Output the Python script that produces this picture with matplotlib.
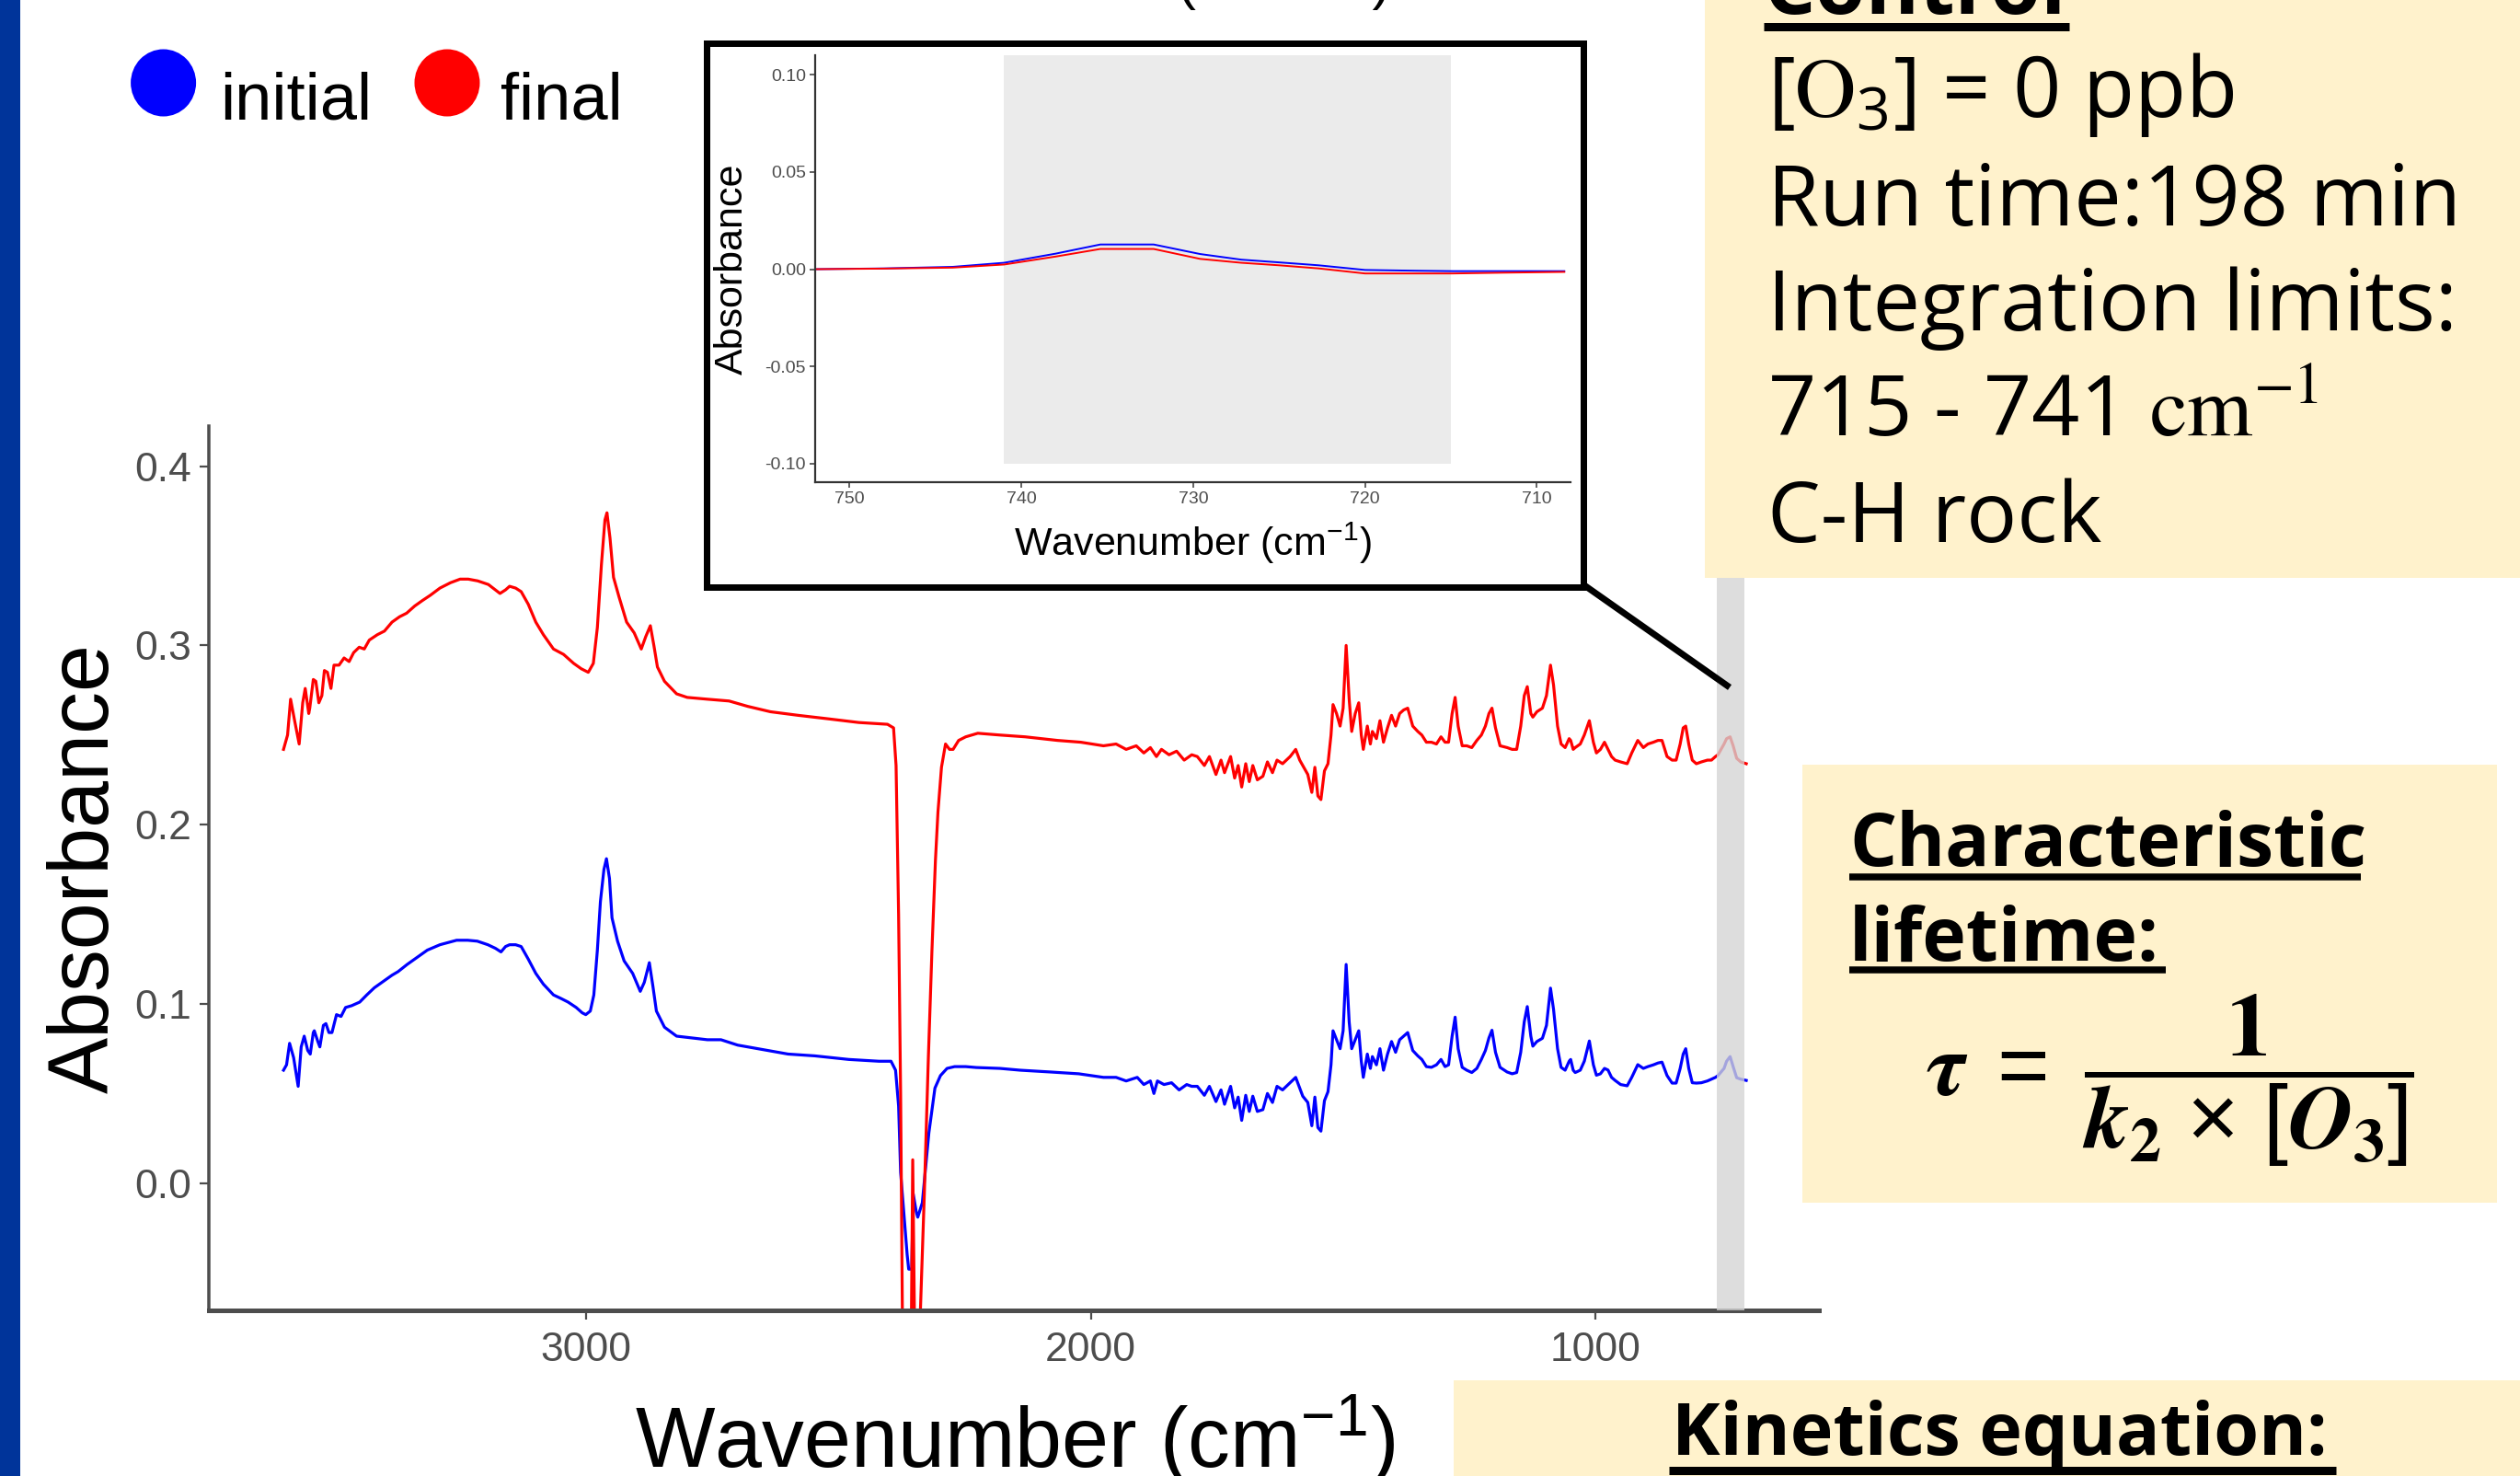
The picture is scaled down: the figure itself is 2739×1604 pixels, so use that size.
import matplotlib
matplotlib.use("Agg")
import matplotlib.pyplot as plt
from matplotlib.patches import Rectangle, Ellipse

# ------------------------------------------------------------------ data
# (wavenumber cm^-1, absorbance)
initial_spectrum = [
    (3600, 0.063), (3594, 0.066), (3588, 0.078), (3580, 0.070), (3571, 0.054),
    (3565, 0.076), (3559, 0.082), (3552, 0.074), (3547, 0.072), (3541, 0.084),
    (3539, 0.085), (3532, 0.079), (3528, 0.076), (3521, 0.088), (3516, 0.089),
    (3510, 0.084), (3504, 0.084), (3495, 0.094), (3486, 0.093), (3477, 0.098),
    (3465, 0.099), (3449, 0.101), (3435, 0.105), (3420, 0.109), (3400, 0.113),
    (3385, 0.116), (3373, 0.118), (3355, 0.122), (3335, 0.126), (3315, 0.130),
    (3290, 0.133), (3257, 0.1355), (3235, 0.1355), (3216, 0.135), (3195, 0.133),
    (3180, 0.131), (3169, 0.129), (3160, 0.132), (3152, 0.133), (3140, 0.133),
    (3129, 0.132), (3115, 0.125), (3100, 0.117), (3085, 0.111), (3065, 0.105),
    (3050, 0.103), (3036, 0.101), (3020, 0.098), (3008, 0.095), (3001, 0.094),
    (2992, 0.096), (2985, 0.105), (2978, 0.130), (2972, 0.157), (2965, 0.175),
    (2960, 0.181), (2954, 0.170), (2949, 0.148), (2938, 0.135), (2925, 0.124),
    (2908, 0.117), (2893, 0.107), (2885, 0.112), (2875, 0.123), (2868, 0.110),
    (2861, 0.096), (2845, 0.087), (2821, 0.082), (2790, 0.081), (2760, 0.080),
    (2733, 0.080), (2700, 0.077), (2640, 0.074), (2600, 0.072), (2547, 0.071),
    (2480, 0.069), (2420, 0.068), (2396, 0.068), (2387, 0.063), (2381, 0.043),
    (2377, 0.006), (2370, -0.019), (2364, -0.040), (2361, -0.048), (2355, -0.048),
    (2352, -0.006), (2346, -0.016), (2343, -0.019), (2334, -0.011), (2321, 0.028),
    (2309, 0.053), (2298, 0.060), (2285, 0.064), (2270, 0.065), (2248, 0.065),
    (2227, 0.0645), (2180, 0.064), (2140, 0.063), (2080, 0.062), (2024, 0.061),
    (1975, 0.059), (1950, 0.059), (1930, 0.057), (1908, 0.059), (1895, 0.055),
    (1882, 0.057), (1875, 0.050), (1868, 0.057), (1855, 0.055), (1840, 0.056),
    (1825, 0.052), (1810, 0.055), (1800, 0.054), (1789, 0.054), (1775, 0.049),
    (1765, 0.054), (1752, 0.0455), (1742, 0.052), (1735, 0.044), (1723, 0.054),
    (1715, 0.042), (1708, 0.048), (1701, 0.035), (1693, 0.049), (1686, 0.040),
    (1679, 0.0485), (1670, 0.040), (1659, 0.041), (1650, 0.050), (1640, 0.045),
    (1631, 0.054), (1620, 0.052), (1605, 0.056), (1594, 0.059), (1586, 0.053),
    (1580, 0.0485), (1570, 0.045), (1562, 0.032), (1556, 0.048), (1550, 0.031),
    (1544, 0.029), (1537, 0.046), (1530, 0.051), (1524, 0.066), (1520, 0.085),
    (1513, 0.080), (1506, 0.075), (1500, 0.085), (1494, 0.122), (1488, 0.090),
    (1483, 0.075), (1476, 0.080), (1469, 0.085), (1464, 0.068), (1460, 0.059),
    (1452, 0.072), (1446, 0.064), (1442, 0.0706), (1434, 0.066), (1427, 0.075),
    (1420, 0.063), (1412, 0.072), (1404, 0.079), (1396, 0.073), (1388, 0.080),
    (1380, 0.082), (1372, 0.084), (1362, 0.074), (1352, 0.071), (1344, 0.069),
    (1335, 0.065), (1325, 0.0646), (1315, 0.066), (1306, 0.069), (1298, 0.065),
    (1291, 0.066), (1284, 0.082), (1278, 0.0926), (1272, 0.075), (1264, 0.0646),
    (1255, 0.063), (1245, 0.0617), (1235, 0.064), (1226, 0.069), (1218, 0.074),
    (1211, 0.081), (1205, 0.0853), (1198, 0.073), (1189, 0.0646), (1175, 0.062),
    (1165, 0.061), (1156, 0.0617), (1148, 0.073), (1141, 0.090), (1135, 0.0985),
    (1128, 0.082), (1124, 0.0764), (1116, 0.079), (1105, 0.0808), (1097, 0.088),
    (1089, 0.1088), (1083, 0.097), (1075, 0.075), (1068, 0.0646), (1060, 0.063),
    (1052, 0.068), (1049, 0.069), (1044, 0.063), (1040, 0.0617), (1030, 0.063),
    (1022, 0.068), (1012, 0.0793), (1004, 0.066), (998, 0.0602), (990, 0.061),
    (982, 0.064), (975, 0.0631), (968, 0.059), (961, 0.0573), (950, 0.055),
    (937, 0.0543), (928, 0.059), (916, 0.0661), (905, 0.064), (896, 0.065),
    (885, 0.066), (876, 0.067), (868, 0.0675), (858, 0.060), (848, 0.0558),
    (840, 0.0558), (832, 0.064), (826, 0.072), (821, 0.075), (815, 0.064),
    (808, 0.056), (800, 0.0558), (790, 0.056), (778, 0.057), (770, 0.058),
    (762, 0.059), (757, 0.060), (745, 0.064), (740, 0.068), (733, 0.0706),
    (727, 0.065), (720, 0.0588), (712, 0.058), (701, 0.0573),
]

final_spectrum = [
    (3600, 0.242), (3592, 0.250), (3586, 0.270), (3578, 0.258), (3569, 0.245),
    (3562, 0.268), (3557, 0.276), (3550, 0.262), (3548, 0.265), (3541, 0.281),
    (3536, 0.280), (3530, 0.268), (3524, 0.272), (3519, 0.286), (3513, 0.285),
    (3506, 0.276), (3500, 0.289), (3490, 0.289), (3480, 0.293), (3470, 0.291),
    (3461, 0.296), (3450, 0.299), (3440, 0.298), (3430, 0.303), (3414, 0.306),
    (3400, 0.308), (3385, 0.313), (3370, 0.316), (3356, 0.318), (3340, 0.322),
    (3325, 0.325), (3309, 0.328), (3290, 0.332), (3269, 0.335), (3250, 0.337),
    (3234, 0.337), (3215, 0.336), (3194, 0.334), (3180, 0.331), (3171, 0.329),
    (3160, 0.331), (3152, 0.333), (3140, 0.332), (3129, 0.330), (3115, 0.323),
    (3100, 0.313), (3085, 0.306), (3065, 0.298), (3045, 0.295), (3025, 0.290),
    (3010, 0.287), (2996, 0.285), (2986, 0.290), (2978, 0.310), (2970, 0.345),
    (2963, 0.370), (2959, 0.374), (2953, 0.360), (2946, 0.338), (2935, 0.327),
    (2920, 0.313), (2905, 0.307), (2891, 0.298), (2882, 0.305), (2873, 0.311),
    (2866, 0.300), (2859, 0.288), (2845, 0.280), (2821, 0.273), (2800, 0.271),
    (2760, 0.270), (2717, 0.269), (2680, 0.266), (2635, 0.263), (2580, 0.261),
    (2519, 0.259), (2460, 0.257), (2403, 0.256), (2391, 0.254), (2386, 0.233),
    (2381, 0.150), (2377, 0.050), (2373, -0.090), (2362, -0.095), (2356, -0.090),
    (2353, 0.013), (2349, -0.090), (2340, -0.090), (2330, -0.006), (2322, 0.070),
    (2315, 0.129), (2308, 0.180), (2303, 0.207), (2296, 0.232), (2288, 0.245),
    (2280, 0.242), (2273, 0.242), (2262, 0.247), (2248, 0.249), (2224, 0.251),
    (2180, 0.250), (2130, 0.249), (2066, 0.247), (2020, 0.246), (1975, 0.244),
    (1950, 0.245), (1930, 0.242), (1910, 0.244), (1895, 0.240), (1882, 0.243),
    (1870, 0.238), (1860, 0.242), (1845, 0.239), (1830, 0.241), (1815, 0.236),
    (1800, 0.239), (1789, 0.238), (1775, 0.233), (1765, 0.238), (1752, 0.228),
    (1742, 0.236), (1735, 0.229), (1723, 0.238), (1715, 0.226), (1708, 0.233),
    (1701, 0.221), (1693, 0.234), (1686, 0.224), (1679, 0.233), (1670, 0.225),
    (1659, 0.227), (1650, 0.235), (1640, 0.229), (1631, 0.236), (1620, 0.234),
    (1605, 0.238), (1594, 0.242), (1586, 0.236), (1580, 0.233), (1570, 0.228),
    (1562, 0.218), (1556, 0.232), (1550, 0.216), (1544, 0.214), (1537, 0.230),
    (1530, 0.234), (1524, 0.250), (1520, 0.267), (1513, 0.262), (1506, 0.255),
    (1500, 0.265), (1494, 0.300), (1488, 0.270), (1483, 0.252), (1476, 0.262),
    (1469, 0.268), (1464, 0.250), (1460, 0.242), (1452, 0.255), (1446, 0.245),
    (1442, 0.252), (1434, 0.248), (1427, 0.258), (1420, 0.246), (1412, 0.254),
    (1404, 0.261), (1396, 0.255), (1388, 0.262), (1380, 0.264), (1372, 0.265),
    (1362, 0.255), (1352, 0.252), (1344, 0.250), (1335, 0.246), (1325, 0.246),
    (1315, 0.245), (1306, 0.249), (1298, 0.246), (1291, 0.246), (1284, 0.262),
    (1278, 0.271), (1272, 0.255), (1264, 0.244), (1255, 0.244), (1245, 0.243),
    (1235, 0.247), (1226, 0.250), (1218, 0.255), (1211, 0.262), (1205, 0.265),
    (1198, 0.254), (1189, 0.244), (1175, 0.243), (1165, 0.242), (1156, 0.242),
    (1148, 0.255), (1141, 0.272), (1135, 0.277), (1128, 0.262), (1124, 0.260),
    (1116, 0.263), (1105, 0.265), (1097, 0.272), (1089, 0.289), (1083, 0.278),
    (1075, 0.255), (1068, 0.245), (1060, 0.243), (1052, 0.248), (1049, 0.247),
    (1044, 0.242), (1040, 0.243), (1030, 0.245), (1022, 0.250), (1012, 0.258),
    (1004, 0.246), (998, 0.240), (990, 0.242), (982, 0.246), (975, 0.242),
    (968, 0.238), (961, 0.236), (950, 0.235), (937, 0.234), (928, 0.240),
    (916, 0.247), (905, 0.243), (896, 0.245), (885, 0.246), (876, 0.247),
    (868, 0.247), (858, 0.238), (848, 0.236), (840, 0.236), (832, 0.245),
    (826, 0.254), (821, 0.255), (815, 0.245), (808, 0.236), (800, 0.234),
    (790, 0.235), (778, 0.236), (770, 0.236), (762, 0.238), (757, 0.239),
    (745, 0.245), (740, 0.248), (733, 0.249), (727, 0.244), (720, 0.237),
    (712, 0.235), (701, 0.234),
]

inset_wavenumber = [752, 748, 744, 741, 738, 735.4, 732.3, 729.6, 727.2, 725,
                    722.7, 720, 717, 714.9, 712, 708.4]
inset_initial = [0.0, 0.0004, 0.0012, 0.0033, 0.0080, 0.0127, 0.0127, 0.0078,
                 0.0049, 0.0035, 0.0020, -0.0004, -0.0008, -0.0010, -0.0010, -0.0010]
inset_final = [0.0, 0.0003, 0.0008, 0.0024, 0.0065, 0.0104, 0.0104, 0.0053,
               0.0033, 0.0020, 0.0004, -0.0022, -0.0022, -0.0022, -0.0018, -0.0014]

integration_limits = (715, 741)
highlight_band = (705, 759)

main_xticks = [3000, 2000, 1000]
main_xticklabels = ["3000", "2000", "1000"]
main_yticks = [0.0, 0.1, 0.2, 0.3, 0.4]
main_yticklabels = ["0.0", "0.1", "0.2", "0.3", "0.4"]
inset_xticks = [750, 740, 730, 720, 710]
inset_xticklabels = ["750", "740", "730", "720", "710"]
inset_yticks = [-0.10, -0.05, 0.00, 0.05, 0.10]
inset_yticklabels = ["-0.10", "-0.05", "0.00", "0.05", "0.10"]

series_labels = ["initial", "final"]
series_colors = ["#0000FF", "#FF0000"]

info_lines = [r"$[\mathrm{O}_3]$ = 0 ppb", "Run time:198 min", "Integration limits:",
              r"715 - 741 $\mathrm{cm}^{\mathrm{-1}}$", "C-H rock"]

# ------------------------------------------------------------------ figure
W, H, DPI = 2739, 1604, 100
plt.rcParams["font.family"] = ["Liberation Sans", "DejaVu Sans"]
plt.rcParams["mathtext.fontset"] = "stix"
plt.rcParams["mathtext.default"] = "regular"

fig = plt.figure(figsize=(W / DPI, H / DPI), dpi=DPI)
fig.patch.set_facecolor("white")


def px2pt(p):
    return p * 72.0 / DPI


GREY = "#4D4D4D"

# main axes (pixel box)
L, R, T, B = 227, 1977, 463, 1424
ax = fig.add_axes([L / W, 1 - B / H, (R - L) / W, (B - T) / H], zorder=1)
ax.patch.set_alpha(0)
wn_i, ab_i = zip(*initial_spectrum)
wn_f, ab_f = zip(*final_spectrum)
ax.plot(wn_i, ab_i, color=series_colors[0], lw=2.3, zorder=2, label=series_labels[0])
ax.plot(wn_f, ab_f, color=series_colors[1], lw=2.3, zorder=2.1, label=series_labels[1])
ax.axvspan(highlight_band[0], highlight_band[1], color="#D4D4D4", alpha=0.78, lw=0, zorder=3)
ax.set_xlim(3748, 557)
ax.set_ylim(-0.071, 0.4224)
ax.set_xticks(main_xticks)
ax.set_xticklabels(main_xticklabels)
ax.set_yticks(main_yticks)
ax.set_yticklabels(main_yticklabels)
for s in ("top", "right"):
    ax.spines[s].set_visible(False)
ax.spines["left"].set_linewidth(px2pt(3.5))
ax.spines["bottom"].set_linewidth(px2pt(5))
ax.spines["left"].set_color(GREY)
ax.spines["bottom"].set_color(GREY)
ax.tick_params(axis="both", length=px2pt(10), width=px2pt(2.2), color=GREY,
               labelcolor=GREY, labelsize=32)
ax.tick_params(axis="y", pad=px2pt(9))
ax.tick_params(axis="x", pad=px2pt(13))

# overlay in pixel coordinates
ov = fig.add_axes([0, 0, 1, 1], zorder=5)
ov.set_xlim(0, W)
ov.set_ylim(H, 0)
ov.axis("off")

ov.add_patch(Rectangle((0, 0), 22, H, color="#00349A", lw=0))

# axis labels of main plot
ov.text(1103, 1595, r"Wavenumber (cm$^{-1}$)", ha="center", va="baseline",
        fontsize=66, color="black")
ov.text(94, 943, "Absorbance", rotation=90, ha="center", va="center",
        fontsize=66, color="black")

# legend
for cx, lab, col, tx in ((177.6, series_labels[0], series_colors[0], 239),
                         (486, series_labels[1], series_colors[1], 544)):
    ov.add_patch(Ellipse((cx, 90), 71, 73, color=col, lw=0))
    ov.text(tx, 130, lab, fontsize=52, ha="left", va="baseline", color="black")

# cut-off title at top
ov.text(1395, -1, "(Control)", fontsize=43, ha="center", va="baseline", color="black")

# inset frame and connector
ov.add_patch(Rectangle((767.5, 47), 1721 - 767.5, 637.5 - 47, facecolor="white",
                       edgecolor="black", lw=px2pt(7), joinstyle="miter", zorder=2))
ov.plot([1722, 1880], [636, 747], color="black", lw=px2pt(7), solid_capstyle="butt", zorder=2)

# yellow boxes
YEL = "#FFF2CC"
ov.add_patch(Rectangle((1853, 0), W - 1853, 628, color=YEL, lw=0, zorder=3))
ov.add_patch(Rectangle((1959, 831), 2714 - 1959, 1307 - 831, color=YEL, lw=0, zorder=3))
ov.add_patch(Rectangle((1580, 1500), W - 1580, H - 1500 + 5, color=YEL, lw=0, zorder=3))

BOXFONT = ["Open Sans", "DejaVu Sans"]
ov.text(1917, 15, "Control", fontsize=64, fontweight="bold", family=BOXFONT,
        ha="left", va="baseline", zorder=4)
ov.plot([1917, 2249], [28.5, 28.5], color="black", lw=px2pt(9), solid_capstyle="butt", zorder=4)
for yb, line in zip([127, 245, 359, 473, 589], info_lines):
    ov.text(1921, yb, line, fontsize=66, family=BOXFONT, ha="left", va="baseline", zorder=4)

ov.text(2010, 941, "Characteristic", fontsize=58, fontweight="bold", family=BOXFONT,
        ha="left", va="baseline", zorder=4)
ov.plot([2010, 2566], [952.5, 952.5], color="black", lw=px2pt(7.5), solid_capstyle="butt", zorder=4)
ov.text(2010, 1044, "lifetime:", fontsize=58, fontweight="bold", family=BOXFONT,
        ha="left", va="baseline", zorder=4)
ov.plot([2010, 2354], [1054, 1054], color="black", lw=px2pt(7.5), solid_capstyle="butt", zorder=4)
ov.text(2358, 1174,
        r"$\mathbfit{\tau}\ =\ \dfrac{\mathbf{1}}{\mathbfit{k}_{\mathbf{2}}\,\times\,[\mathbfit{O}_{\mathbf{3}}]}$",
        fontsize=70, ha="center", va="center", zorder=4)

ov.text(1817, 1581, "Kinetics equation:", fontsize=57, fontweight="bold", family=BOXFONT,
        ha="left", va="baseline", zorder=4)
ov.plot([1814, 2539], [1598, 1598], color="black", lw=px2pt(9), solid_capstyle="butt", zorder=4)

# inset labels
ov.text(796, 292, "Absorbance", rotation=90, ha="center", va="center", fontsize=31, zorder=4)
ov.text(1296, 604, r"Wavenumber (cm$^{-1}$)", ha="center", va="baseline", fontsize=31, zorder=4)

# inset axes
IL, IR, IT, IB = 886, 1706.6, 60, 524
ax2 = fig.add_axes([IL / W, 1 - IB / H, (IR - IL) / W, (IB - IT) / H], zorder=6)
ax2.patch.set_alpha(0)
ax2.add_patch(Rectangle((integration_limits[0], -0.10),
                        integration_limits[1] - integration_limits[0], 0.21,
                        color="#EBEBEB", lw=0, zorder=0))
ax2.plot(inset_wavenumber, inset_initial, color=series_colors[0], lw=1.4, zorder=2)
ax2.plot(inset_wavenumber, inset_final, color=series_colors[1], lw=1.4, zorder=2.1)
ax2.set_xlim(752.0, 708.06)
ax2.set_ylim(-0.1095, 0.11)
ax2.set_xticks(inset_xticks)
ax2.set_xticklabels(inset_xticklabels)
ax2.set_yticks(inset_yticks)
ax2.set_yticklabels(inset_yticklabels)
for s in ("top", "right"):
    ax2.spines[s].set_visible(False)
for s in ("left", "bottom"):
    ax2.spines[s].set_linewidth(px2pt(2.2))
    ax2.spines[s].set_color("#333333")
ax2.tick_params(axis="both", length=px2pt(6), width=px2pt(1.5), color="#333333",
                labelcolor=GREY, labelsize=14, pad=px2pt(4))

fig.savefig("out.png", dpi=DPI, facecolor="white")
